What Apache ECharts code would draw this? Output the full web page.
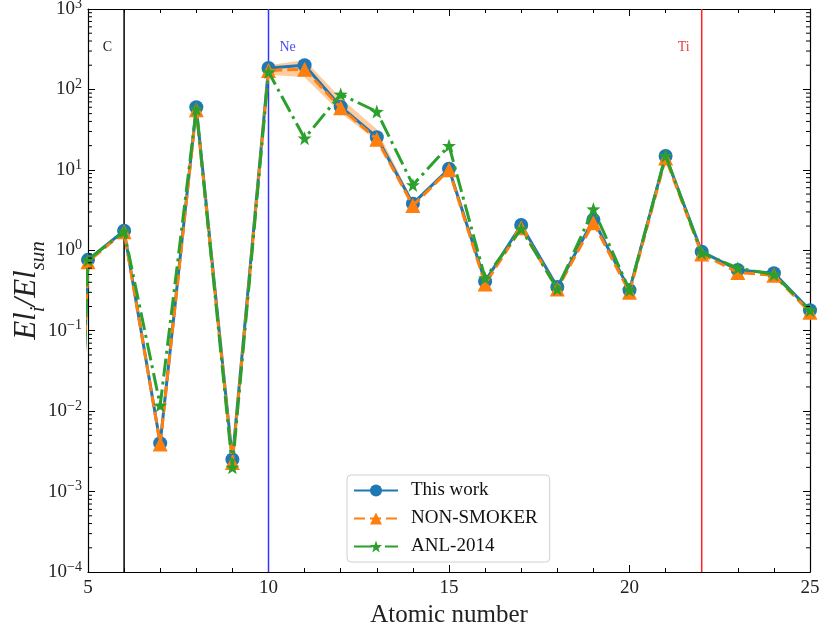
<!DOCTYPE html>
<html><head><meta charset="utf-8">
<script src="https://cdn.jsdelivr.net/npm/echarts@6/dist/echarts.min.js"></script>
<style>html,body{margin:0;padding:0;background:#fff}#c{width:819px;height:625px}</style>
</head><body><div id="c"></div>
<script>
// Atomic numbers (Z=4 point lies outside the plotted range and is clipped)
const atomicNumbers = [4, 5, 6, 7, 8, 9, 10, 11, 12, 13, 14, 15, 16, 17, 18, 19, 20, 21, 22, 23, 24, 25];
const thisWork   = [1e-12, 0.76, 1.75, 0.0040, 60, 0.0025, 185, 200, 61, 25.5, 3.8, 10.3, 0.41, 2.06, 0.35, 2.4, 0.32, 14.9, 0.96, 0.57, 0.52, 0.18];
const nonSmoker  = [1e-12, 0.72, 1.70, 0.0039, 56, 0.0023, 172, 178, 59, 24, 3.6, 10.0, 0.38, 1.9, 0.33, 2.2, 0.30, 14.0, 0.90, 0.53, 0.49, 0.17];
const anl2014    = [1e-12, 0.76, 1.72, 0.0118, 57, 0.0020, 165, 24.7, 87, 53, 6.5, 20, 0.45, 1.85, 0.33, 3.25, 0.32, 15.0, 0.93, 0.60, 0.50, 0.18];
// Uncertainty band of NON-SMOKER where visible
const bandZ  = [10, 11, 12, 13, 14];
const bandLo = [152, 142, 51, 23, 3.4];
const bandHi = [200, 232, 78, 32, 4.1];
// Reference element lines
const refZ      = [6, 10, 22];
const refNames  = ['C', 'Ne', 'Ti'];
const refSide   = ['left', 'right', 'left'];
const yTickExps = [-4, -3, -2, -1, 0, 1, 2, 3];

const FONT = 'Liberation Serif';
const star = 'path://M0,-10 L2.35,-3.24 L9.51,-3.09 L3.8,1.24 L5.88,8.09 L0,4 L-5.88,8.09 L-3.8,1.24 L-9.51,-3.09 L-2.35,-3.24 Z';
const pair = (ys) => atomicNumbers.map((z, i) => [z, ys[i]]);

// minor tick values for log axis
const minorVals = [];
for (let e = yTickExps[0]; e < yTickExps[yTickExps.length - 1]; e++) for (let m = 2; m <= 9; m++) minorVals.push(m * Math.pow(10, e));

const chart = echarts.init(document.getElementById('c'));
const grid = {left: 88, right: 9, top: 9, bottom: 53, containLabel: false, outerBoundsMode: 'none'};
const refColors = ['#000000', '#3333ff', '#ff2020'];
const labelColors = ['#222222', '#4a4aff', '#e84040'];

const series = [];
// band
series.push({
  type: 'custom', silent: true, z: 1,
  data: bandZ.map((z, i) => [z, bandLo[i], bandHi[i]]),
  renderItem: function (params, api) {
    if (params.dataIndex !== 0) return null;
    const pts = [];
    for (let i = 0; i < bandZ.length; i++) pts.push(api.coord([bandZ[i], bandHi[i]]));
    for (let i = bandZ.length - 1; i >= 0; i--) pts.push(api.coord([bandZ[i], bandLo[i]]));
    return {type: 'polygon', shape: {points: pts}, style: {fill: 'rgba(255,127,14,0.4)'}};
  }
});
// reference lines
refZ.forEach((z, k) => {
  series.push({
    type: 'line', silent: true, z: 0, symbol: 'none', animation: false,
    data: [[z, 1e-4], [z, 1e3]],
    lineStyle: {color: refColors[k], width: 1.5},
    markPoint: {
      symbol: 'circle', symbolSize: 0, silent: true,
      data: [{coord: [z, 330], label: {show: true, formatter: refNames[k], position: refSide[k],
        distance: refSide[k] === 'left' ? 12 : 11, color: labelColors[k], fontFamily: FONT, fontSize: 14}}]
    }
  });
});
series.push({
  name: 'This work', type: 'line', data: pair(thisWork), z: 3, clip: true,
  symbol: 'circle', symbolSize: 14, color: '#1f77b4',
  lineStyle: {width: 3, color: '#1f77b4'}, itemStyle: {color: '#1f77b4'}
});
series.push({
  name: 'NON-SMOKER', type: 'line', data: pair(nonSmoker), z: 4, clip: true,
  symbol: 'triangle', symbolSize: 15, color: '#ff7f0e',
  lineStyle: {width: 3, color: '#ff7f0e', type: [11, 5]}, itemStyle: {color: '#ff7f0e'}
});
series.push({
  name: 'ANL-2014', type: 'line', data: pair(anl2014), z: 5, clip: true,
  symbol: star, symbolSize: 14, color: '#2ca02c',
  lineStyle: {width: 3, color: '#2ca02c', type: [18, 5, 3, 5]}, itemStyle: {color: '#2ca02c'}
});
// minor y ticks (left and right)
series.push({
  type: 'custom', silent: true, z: 6, clip: false,
  data: minorVals.map(v => [5, v]),
  renderItem: function (params, api) {
    const v = api.value(1);
    const pl = api.coord([5, v]);
    const pr = api.coord([25, v]);
    return {type: 'group', children: [
      {type: 'line', shape: {x1: pl[0], y1: pl[1], x2: pl[0] + 4, y2: pl[1]}, style: {stroke: '#000', lineWidth: 1}},
      {type: 'line', shape: {x1: pr[0], y1: pr[1], x2: pr[0] - 4, y2: pr[1]}, style: {stroke: '#000', lineWidth: 1}}
    ]};
  }
});

const axisLine = {show: true, lineStyle: {color: '#000', width: 1.2}};
chart.setOption({
  animation: false,
  backgroundColor: '#fff',
  grid: grid,
  legend: {
    data: ['This work', 'NON-SMOKER', 'ANL-2014'],
    orient: 'vertical', left: 347, top: 475,
    itemWidth: 44, itemHeight: 15, itemGap: 9,
    padding: [6, 12, 6, 6],
    borderColor: '#d0d0d0', borderWidth: 1, borderRadius: 4,
    backgroundColor: 'rgba(255,255,255,0.85)',
    textStyle: {fontFamily: FONT, fontSize: 19, color: '#111', padding: [0, 0, 0, 8]}
  },
  xAxis: [{
    type: 'value', min: 5, max: 25, interval: 5,
    name: 'Atomic number', nameLocation: 'middle', nameGap: 22,
    nameTextStyle: {fontFamily: FONT, fontSize: 25, color: '#222'},
    axisLine: axisLine,
    axisTick: {inside: true, length: 7, lineStyle: {color: '#000'}},
    minorTick: {show: true, splitNumber: 5, length: 4, lineStyle: {color: '#000'}},
    axisLabel: {fontFamily: FONT, fontSize: 19, color: '#222', margin: 7},
    splitLine: {show: false}
  }, {
    type: 'value', min: 5, max: 25, interval: 5, position: 'top',
    axisLine: axisLine,
    axisTick: {inside: true, length: 7, lineStyle: {color: '#000'}},
    minorTick: {show: true, splitNumber: 5, length: 4, lineStyle: {color: '#000'}},
    axisLabel: {show: false}, splitLine: {show: false}
  }],
  yAxis: [{
    type: 'log', logBase: 10, min: 1e-4, max: 1e3, interval: 1,
    name: '{i|El}{s|i}{i|/El}{s|sun}', nameLocation: 'middle', nameGap: 46, nameRotate: 90,
    nameMoveOverlap: false,
    nameTextStyle: {rich: {
      i: {fontFamily: FONT, fontStyle: 'italic', fontSize: 31, color: '#222'},
      s: {fontFamily: FONT, fontStyle: 'italic', fontSize: 21, color: '#222', verticalAlign: 'bottom', padding: [0, 0, -7, 0]}
    }},
    axisLine: axisLine,
    axisTick: {inside: true, length: 7, lineStyle: {color: '#000'}},
    axisLabel: {
      margin: 6,
      formatter: function (v) {
        const e = Math.round(Math.log10(v));
        return '{b|10}{p|' + (e < 0 ? '\u2212' + (-e) : e) + '}';
      },
      rich: {
        b: {fontFamily: FONT, fontSize: 19, color: '#222'},
        p: {fontFamily: FONT, fontSize: 14, color: '#222', verticalAlign: 'top', padding: [0, 0, 10, 0]}
      }
    },
    splitLine: {show: false}
  }, {
    type: 'log', logBase: 10, min: 1e-4, max: 1e3, interval: 1, position: 'right',
    axisLine: axisLine,
    axisTick: {inside: true, length: 7, lineStyle: {color: '#000'}},
    axisLabel: {show: false}, splitLine: {show: false}
  }],
  series: series
});
</script>
</body></html>
